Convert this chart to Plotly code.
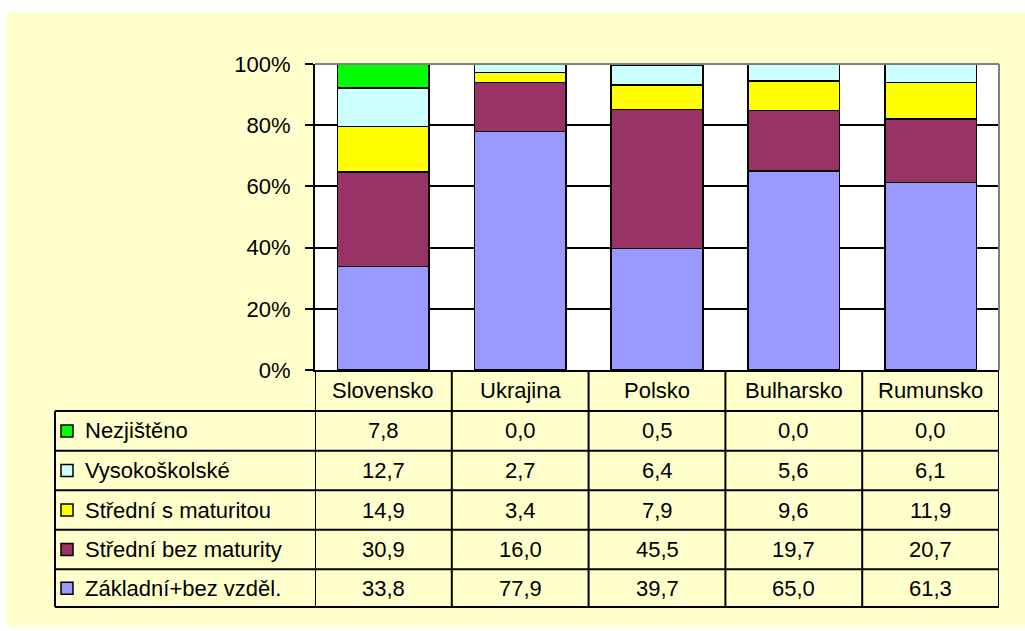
import plotly.graph_objects as go

countries = ["Slovensko", "Ukrajina", "Polsko", "Bulharsko", "Rumunsko"]
series_names = ["Základní+bez vzděl.", "Střední bez maturity", "Střední s maturitou",
                "Vysokoškolské", "Nezjištěno"]
zakladni = [33.8, 77.9, 39.7, 65.0, 61.3]
stredni_bez = [30.9, 16.0, 45.5, 19.7, 20.7]
stredni_s = [14.9, 3.4, 7.9, 9.6, 11.9]
vysokoskolske = [12.7, 2.7, 6.4, 5.6, 6.1]
nezjisteno = [7.8, 0.0, 0.5, 0.0, 0.0]
colors = ["#9999FF", "#993366", "#FFFF00", "#CCFFFF", "#00FF00"]
y_ticks = [0, 20, 40, 60, 80, 100]
y_tick_labels = ["0%", "20%", "40%", "60%", "80%", "100%"]

series_values = [zakladni, stredni_bez, stredni_s, vysokoskolske, nezjisteno]

W, H = 1025, 631
L, R, T, B = 315, 999, 64, 370.5
FONT = "Liberation Sans, Arial, sans-serif"
FS = 22


def px(x):
    return (x - L) / (R - L)


def py(y):
    return (B - y) / (B - T)


fig = go.Figure()
for name, vals, col in zip(series_names, series_values, colors):
    fig.add_trace(go.Bar(
        x=countries, y=vals, name=name,
        marker=dict(color=col, line=dict(color="black", width=1.5)),
        width=0.67, showlegend=False, hoverinfo="x+y+name",
    ))

shapes = []
# white page strip (top + left + bottom)
shapes.append(dict(type="rect", xref="paper", yref="paper", x0=px(-5), x1=px(W + 5),
                   y0=py(12), y1=py(-5), fillcolor="white", line=dict(width=0), layer="below"))
shapes.append(dict(type="rect", xref="paper", yref="paper", x0=px(-5), x1=px(7),
                   y0=py(H + 5), y1=py(-5), fillcolor="white", line=dict(width=0), layer="below"))
shapes.append(dict(type="rect", xref="paper", yref="paper", x0=px(-5), x1=px(W + 5),
                   y0=py(H + 5), y1=py(628), fillcolor="white", line=dict(width=0), layer="below"))
# gray plot border top/right
shapes.append(dict(type="line", xref="paper", yref="paper", x0=0, x1=1, y0=1, y1=1,
                   line=dict(color="#808080", width=2)))
shapes.append(dict(type="line", xref="paper", yref="paper", x0=1, x1=1, y0=0, y1=1,
                   line=dict(color="#808080", width=2)))

# table geometry
row_lines = [411.5, 451.5, 491, 530.5, 570, 608]
table_left = 55
lw = 2
for yl in row_lines:
    shapes.append(dict(type="line", xref="paper", yref="paper", x0=px(table_left), x1=1,
                       y0=py(yl), y1=py(yl), line=dict(color="black", width=lw)))
for i in range(len(countries) + 1):
    shapes.append(dict(type="line", xref="x", yref="paper", x0=i - 0.5, x1=i - 0.5,
                       y0=0, y1=py(row_lines[-1]), line=dict(color="black", width=lw)))
shapes.append(dict(type="line", xref="paper", yref="paper", x0=px(table_left), x1=px(table_left),
                   y0=py(row_lines[0]), y1=py(row_lines[-1]), line=dict(color="black", width=lw)))

annotations = []
for c in countries:
    annotations.append(dict(x=c, xref="x", y=py(391), yref="paper", text=c, showarrow=False,
                            font=dict(family=FONT, size=FS, color="black"),
                            xanchor="center", yanchor="middle"))

order = list(range(len(series_names)))[::-1]
for r, si in enumerate(order):
    yc = (row_lines[r] + row_lines[r + 1]) / 2
    shapes.append(dict(type="rect", xref="paper", yref="paper", x0=px(61), x1=px(73),
                       y0=py(yc + 6), y1=py(yc - 6), fillcolor=colors[si],
                       line=dict(color="black", width=1.5)))
    annotations.append(dict(x=px(83), xref="paper", y=py(yc), yref="paper",
                            text=series_names[si], showarrow=False,
                            font=dict(family=FONT, size=FS, color="black"),
                            xanchor="left", yanchor="middle"))
    for ci, c in enumerate(countries):
        v = series_values[si][ci]
        annotations.append(dict(x=c, xref="x", y=py(yc), yref="paper",
                                text=f"{v:.1f}".replace(".", ","), showarrow=False,
                                font=dict(family=FONT, size=FS, color="black"),
                                xanchor="center", yanchor="middle"))

fig.update_layout(
    width=W, height=H,
    margin=dict(l=L, r=W - R, t=T, b=H - B, autoexpand=False),
    paper_bgcolor="#FFFFCC",
    plot_bgcolor="white",
    barmode="stack",
    barnorm="percent",
    shapes=shapes,
    annotations=annotations,
    xaxis=dict(type="category", categoryorder="array", categoryarray=countries,
               range=[-0.5, 4.5], showticklabels=False, showgrid=False,
               showline=True, linecolor="black", linewidth=2, ticks="", zeroline=False),
    yaxis=dict(range=[0, 100], tickvals=y_ticks, ticktext=y_tick_labels,
               showgrid=True, gridcolor="black", gridwidth=1.5,
               showline=True, linecolor="black", linewidth=2,
               ticks="outside", ticklen=8, tickcolor="black", tickwidth=2,
               ticklabelstandoff=10, zeroline=False,
               tickfont=dict(family=FONT, size=FS, color="black")),
)

fig.write_html("out.html", config={"displayModeBar": False},
               post_script="document.body.style.margin='0';")
